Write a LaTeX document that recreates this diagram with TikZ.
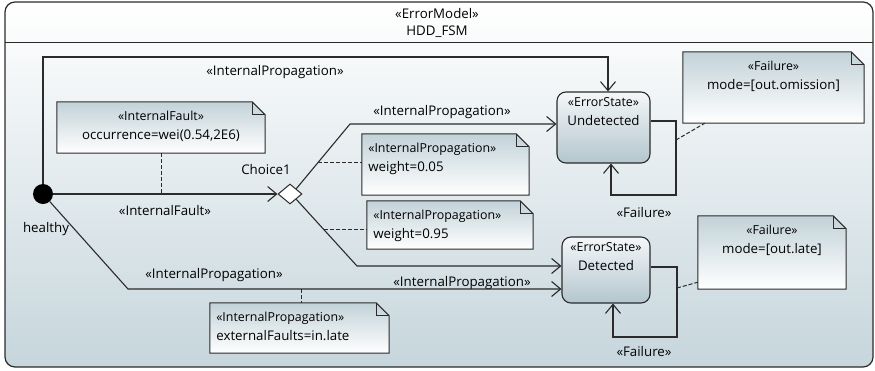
\documentclass[tikz,border=0pt]{standalone}
\usepackage{fontspec}
\setmainfont{Open Sans}
\usetikzlibrary{arrows.meta, shapes, positioning, calc}

\definecolor{framebot}{HTML}{C6D6DC}
\definecolor{notetop}{HTML}{C2D2D8}
\definecolor{statetop}{HTML}{F4F7F8}
\definecolor{statebot}{HTML}{B3C6CE}
\definecolor{lineclr}{HTML}{2B2B2B}

\pgfdeclarelayer{back}
\pgfsetlayers{back,main}

\newcommand{\stereo}[1]{{\fontsize{12.4}{14}\selectfont «#1»}}

\tikzset{
  edge/.style={draw=lineclr, line width=1.1pt, -{Straight Barb[length=9pt, width=15pt, line width=1.1pt]}},
  dashline/.style={draw=lineclr, line width=1pt, dash pattern=on 4pt off 2pt},
  frame/.style={rounded corners=10pt, draw=lineclr, line width=1.2pt, top color=white, bottom color=framebot},
  statebox/.style={draw=lineclr, line width=1.1pt, rounded corners=9pt, top color=statetop, bottom color=statebot, minimum width=93, minimum height=71, inner sep=0},
  notebox/.style={inner sep=0},
  stxt/.style={anchor=north, align=center, yshift=-3pt},
  ntxt/.style={anchor=north, align=center, yshift=-6pt},
  ntxtl/.style={anchor=north west, align=left, xshift=3pt, yshift=-6pt}
}

\begin{document}
\begin{tikzpicture}[x=1pt, y=-1pt, font=\fontsize{13.3}{18.5}\selectfont]
\useasboundingbox (0,0) rectangle (875,370);

\begin{pgfonlayer}{back}
\draw[frame] (5,2) rectangle (873,367);
\draw[lineclr, line width=1pt] (5,42) -- (873,42);
\end{pgfonlayer}

\node (hdrSt) at (437,14) {«ErrorModel»};
\node (hdrName) at (437,32) {HDD\_FSM};

% states
\node[circle, fill=black, minimum size=20, inner sep=0] (init) at (43,194) {};
\node (initLbl) at (46,229) {healthy};
\node[diamond, draw=lineclr, line width=1pt, fill=white, minimum width=24, minimum height=20, inner sep=0] (choice) at (290,194) {};
\node (choiceLbl) at (266,170) {Choice1};

\node[statebox, label={[stxt]north:{\stereo{ErrorState}\\Undetected}}] (und) at (603.5,127.5) {};
\node[statebox, minimum width=88, minimum height=66, label={[stxt]north:{\stereo{ErrorState}\\Detected}}] (det) at (606,270) {};

% notes
\node[notebox, minimum width=208, minimum height=51, label={[ntxt]north:{\stereo{InternalFault}\\occurrence=wei(0.54,2E6)}}] (nFault) at (161,127.5) {};
\node[notebox, minimum width=167, minimum height=61, label={[ntxtl]north west:{\stereo{InternalPropagation}\\weight=0.05}}] (nWlow) at (445.5,164.5) {};
\node[notebox, minimum width=166, minimum height=48, label={[ntxtl]north west:{\stereo{InternalPropagation}\\weight=0.95}}] (nWhigh) at (450,225) {};
\node[notebox, minimum width=179, minimum height=50, label={[ntxtl]north west:{\stereo{InternalPropagation}\\externalFaults=in.late}}] (nExt) at (299.5,328) {};
\node[notebox, minimum width=181, minimum height=71, label={[ntxt]north:{\stereo{Failure}\\mode=[out.omission]}}] (nOmit) at (773.5,87.5) {};
\node[notebox, minimum width=148, minimum height=73, label={[ntxt]north:{\stereo{Failure}\\mode=[out.late]}}] (nLate) at (772,252.5) {};

\begin{pgfonlayer}{back}
\foreach \n in {nFault, nWlow, nWhigh, nExt, nOmit, nLate} {
  \shadedraw[top color=notetop, bottom color=white, draw=lineclr, line width=1pt]
    (\n.south west) -- (\n.north west) -- ([xshift=-13pt]\n.north east)
    -- ([yshift=-13pt]\n.north east) -- (\n.south east) -- cycle;
  \draw[lineclr, line width=1pt] ([xshift=-13pt]\n.north east) |- ([yshift=-13pt]\n.north east);
}
\end{pgfonlayer}

% transitions
\coordinate (topL) at (43,57);
\coordinate (topR) at (608,57);
\draw[edge] (init) -- (topL) -- (topR) -- (topR |- und.north);
\node (lTop) at (275,72) {«InternalPropagation»};

\draw[edge] (init) -- (choice);
\node (lFault) at (165,211) {«InternalFault»};

\coordinate (cUp) at (350,124);
\draw[edge] (choice.north east) -- (cUp) -- (cUp -| und.west);
\node (lUp) at (442,112) {«InternalPropagation»};

\coordinate (cDn) at (357,266);
\draw[edge] (choice.south east) -- (cDn) -- (cDn -| det.west);
\node (lDn) at (462,283) {«InternalPropagation»};

\coordinate (hDn) at (128,289);
\draw[edge] (init) -- (hDn) -- (hDn -| det.west);
\node (lLow) at (214,275) {«InternalPropagation»};

\coordinate (uA) at (676,121);
\coordinate (uB) at (611,195);
\draw[edge] (uA -| und.east) -- (uA) |- (uB) -- (uB |- und.south);
\node (lUndLoop) at (644,213) {«Failure»};

\coordinate (dA) at (677,267);
\coordinate (dB) at (613,337);
\draw[edge] (dA -| det.east) -- (dA) |- (dB) -- (dB |- det.south);
\node (lDetLoop) at (644,352) {«Failure»};

% note links
\coordinate (fDot) at (161,194);
\draw[dashline] (nFault.south) -- (fDot);
\coordinate (wLowDot) at ($(choice.north east)!0.4!(cUp)$);
\draw[dashline] (wLowDot) -- (wLowDot -| nWlow.west);
\coordinate (wHighDot) at ($(choice.south east)!0.45!(cDn)$);
\draw[dashline] (wHighDot) -- (wHighDot -| nWhigh.west);
\coordinate (eDot) at (301,289);
\draw[dashline] (eDot) -- (eDot |- nExt.north);
\coordinate (uDot) at (676,140);
\draw[dashline] (uDot) -- ([xshift=22pt]nOmit.south west);
\coordinate (dDot) at (677,288);
\draw[dashline] (dDot) -- ([yshift=7pt]nLate.south west);

\end{tikzpicture}
\end{document}
